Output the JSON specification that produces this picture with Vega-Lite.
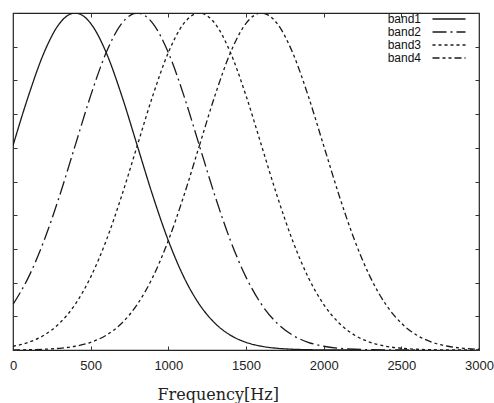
{
  "$schema": "https://vega.github.io/schema/vega-lite/v6.json",
  "width": 466,
  "height": 337,
  "autosize": {"type": "none"},
  "padding": {"left": 13, "top": 13, "right": 15, "bottom": 53},
  "background": "white",
  "config": {
    "view": {"stroke": "#222", "strokeWidth": 1.2},
    "axis": {"domain": false, "grid": false, "tickColor": "#333", "tickWidth": 1, "tickSize": -4, "labelFont": "Liberation Sans", "labelFontSize": 13, "labelColor": "#222", "labelFlush": false}
  },
  "data": {"values": [
    {"freq":0,"band":"band1","value":0.6065},{"freq":100,"band":"band1","value":0.7548},{"freq":200,"band":"band1","value":0.8825},{"freq":300,"band":"band1","value":0.9692},{"freq":400,"band":"band1","value":1},{"freq":500,"band":"band1","value":0.9692},{"freq":600,"band":"band1","value":0.8825},{"freq":700,"band":"band1","value":0.7548},{"freq":800,"band":"band1","value":0.6065},{"freq":900,"band":"band1","value":0.4578},{"freq":1000,"band":"band1","value":0.3247},{"freq":1100,"band":"band1","value":0.2163},{"freq":1200,"band":"band1","value":0.1353},{"freq":1300,"band":"band1","value":0.0796},{"freq":1400,"band":"band1","value":0.0439},{"freq":1500,"band":"band1","value":0.0228},{"freq":1600,"band":"band1","value":0.0111},{"freq":1700,"band":"band1","value":0.0051},{"freq":1800,"band":"band1","value":0.0022},{"freq":1900,"band":"band1","value":0.0009},{"freq":2000,"band":"band1","value":0.0003},{"freq":2100,"band":"band1","value":0},{"freq":2200,"band":"band1","value":0},
    {"freq":0,"band":"band2","value":0.1353},{"freq":100,"band":"band2","value":0.2163},{"freq":200,"band":"band2","value":0.3247},{"freq":300,"band":"band2","value":0.4578},{"freq":400,"band":"band2","value":0.6065},{"freq":500,"band":"band2","value":0.7548},{"freq":600,"band":"band2","value":0.8825},{"freq":700,"band":"band2","value":0.9692},{"freq":800,"band":"band2","value":1},{"freq":900,"band":"band2","value":0.9692},{"freq":1000,"band":"band2","value":0.8825},{"freq":1100,"band":"band2","value":0.7548},{"freq":1200,"band":"band2","value":0.6065},{"freq":1300,"band":"band2","value":0.4578},{"freq":1400,"band":"band2","value":0.3247},{"freq":1500,"band":"band2","value":0.2163},{"freq":1600,"band":"band2","value":0.1353},{"freq":1700,"band":"band2","value":0.0796},{"freq":1800,"band":"band2","value":0.0439},{"freq":1900,"band":"band2","value":0.0228},{"freq":2000,"band":"band2","value":0.0111},{"freq":2100,"band":"band2","value":0.0051},{"freq":2200,"band":"band2","value":0.0022},{"freq":2300,"band":"band2","value":0.0009},{"freq":2400,"band":"band2","value":0.0003},{"freq":2500,"band":"band2","value":0},{"freq":2600,"band":"band2","value":0},
    {"freq":0,"band":"band3","value":0.0111},{"freq":100,"band":"band3","value":0.0228},{"freq":200,"band":"band3","value":0.0439},{"freq":300,"band":"band3","value":0.0796},{"freq":400,"band":"band3","value":0.1353},{"freq":500,"band":"band3","value":0.2163},{"freq":600,"band":"band3","value":0.3247},{"freq":700,"band":"band3","value":0.4578},{"freq":800,"band":"band3","value":0.6065},{"freq":900,"band":"band3","value":0.7548},{"freq":1000,"band":"band3","value":0.8825},{"freq":1100,"band":"band3","value":0.9692},{"freq":1200,"band":"band3","value":1},{"freq":1300,"band":"band3","value":0.9692},{"freq":1400,"band":"band3","value":0.8825},{"freq":1500,"band":"band3","value":0.7548},{"freq":1600,"band":"band3","value":0.6065},{"freq":1700,"band":"band3","value":0.4578},{"freq":1800,"band":"band3","value":0.3247},{"freq":1900,"band":"band3","value":0.2163},{"freq":2000,"band":"band3","value":0.1353},{"freq":2100,"band":"band3","value":0.0796},{"freq":2200,"band":"band3","value":0.0439},{"freq":2300,"band":"band3","value":0.0228},{"freq":2400,"band":"band3","value":0.0111},{"freq":2500,"band":"band3","value":0.0051},{"freq":2600,"band":"band3","value":0.0022},{"freq":2700,"band":"band3","value":0.0009},{"freq":2800,"band":"band3","value":0.0003},{"freq":2900,"band":"band3","value":0},{"freq":3000,"band":"band3","value":0},
    {"freq":0,"band":"band4","value":0.0003},{"freq":100,"band":"band4","value":0.0009},{"freq":200,"band":"band4","value":0.0022},{"freq":300,"band":"band4","value":0.0051},{"freq":400,"band":"band4","value":0.0111},{"freq":500,"band":"band4","value":0.0228},{"freq":600,"band":"band4","value":0.0439},{"freq":700,"band":"band4","value":0.0796},{"freq":800,"band":"band4","value":0.1353},{"freq":900,"band":"band4","value":0.2163},{"freq":1000,"band":"band4","value":0.3247},{"freq":1100,"band":"band4","value":0.4578},{"freq":1200,"band":"band4","value":0.6065},{"freq":1300,"band":"band4","value":0.7548},{"freq":1400,"band":"band4","value":0.8825},{"freq":1500,"band":"band4","value":0.9692},{"freq":1600,"band":"band4","value":1},{"freq":1700,"band":"band4","value":0.9692},{"freq":1800,"band":"band4","value":0.8825},{"freq":1900,"band":"band4","value":0.7548},{"freq":2000,"band":"band4","value":0.6065},{"freq":2100,"band":"band4","value":0.4578},{"freq":2200,"band":"band4","value":0.3247},{"freq":2300,"band":"band4","value":0.2163},{"freq":2400,"band":"band4","value":0.1353},{"freq":2500,"band":"band4","value":0.0796},{"freq":2600,"band":"band4","value":0.0439},{"freq":2700,"band":"band4","value":0.0228},{"freq":2800,"band":"band4","value":0.0111},{"freq":2900,"band":"band4","value":0.0051},{"freq":3000,"band":"band4","value":0.0022}
  ]},
  "layer": [
    {
      "mark": {"type": "line", "interpolate": "monotone", "color": "#1a1a1a", "strokeWidth": 1.3, "clip": true},
      "encoding": {
        "x": {"field": "freq", "type": "quantitative", "scale": {"domain": [0, 3000], "nice": false},
              "axis": {"orient": "bottom", "values": [0, 500, 1000, 1500, 2000, 2500, 3000], "format": "d", "labelPadding": 13, "title": "Frequency[Hz]", "titleFont": "DejaVu Serif", "titleFontSize": 16, "titleFontWeight": "normal", "titleColor": "#222", "titleAnchor": "start", "titleX": 144, "titlePadding": 14}},
        "y": {"field": "value", "type": "quantitative", "scale": {"domain": [0, 1], "nice": false},
              "axis": {"orient": "left", "values": [0, 0.1, 0.2, 0.3, 0.4, 0.5, 0.6, 0.7, 0.8, 0.9, 1], "labels": false, "title": null}},
        "strokeDash": {"field": "band", "type": "nominal",
          "scale": {"domain": ["band1", "band2", "band3", "band4"], "range": [[1, 0], [14, 4, 2, 4], [3, 3], [7, 3, 3, 3, 3, 3]]},
          "legend": {"title": null, "orient": "none", "legendX": 429, "legendY": -1, "symbolType": "M-2.75,0H2.75", "symbolSize": 144, "symbolStrokeColor": "#1a1a1a", "symbolStrokeWidth": 1.3, "labelAlign": "right", "labelOffset": -35, "labelFont": "Liberation Sans", "labelFontSize": 12, "labelColor": "#111", "rowPadding": -2, "padding": 0}}
      }
    },
    {
      "mark": {"type": "line", "opacity": 0},
      "encoding": {
        "x": {"field": "freq", "type": "quantitative", "axis": {"orient": "top", "values": [0, 500, 1000, 1500, 2000, 2500, 3000], "labels": false, "title": null}},
        "y": {"field": "value", "type": "quantitative", "axis": {"orient": "right", "values": [0, 0.1, 0.2, 0.3, 0.4, 0.5, 0.6, 0.7, 0.8, 0.9, 1], "labels": false, "title": null}},
        "detail": {"field": "band", "type": "nominal"}
      }
    }
  ],
  "resolve": {"axis": {"x": "independent", "y": "independent"}}
}
